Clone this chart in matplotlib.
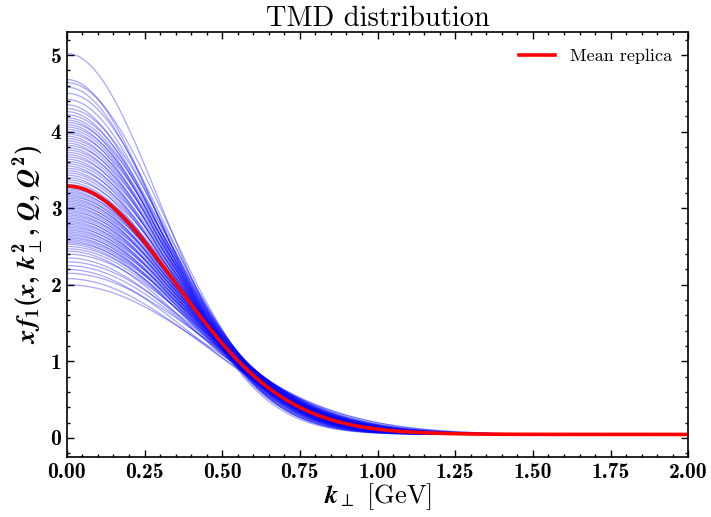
import numpy as np
import matplotlib
matplotlib.use('Agg')
import matplotlib.pyplot as plt
from matplotlib.ticker import MultipleLocator

peaks = [5.02, 4.68, 4.64, 4.58, 4.50, 4.42, 4.35, 4.30, 4.26, 4.22,
         4.18, 4.15, 4.12, 4.09, 4.06, 4.03, 4.00, 3.97, 3.94, 3.91,
         3.88, 3.85, 3.82, 3.79, 3.76, 3.73, 3.70, 3.67, 3.64, 3.61,
         3.58, 3.55, 3.52, 3.49, 3.46, 3.43, 3.40, 3.37, 3.34,
         3.31, 3.29, 3.27, 3.25, 3.23, 3.21, 3.19, 3.17, 3.15, 3.13,
         3.11, 3.09, 3.07, 3.05, 3.03, 3.01, 2.99, 2.97, 2.95, 2.93,
         2.91, 2.89, 2.87, 2.85, 2.83, 2.81, 2.79, 2.77, 2.75, 2.73,
         2.71, 2.69, 2.67, 2.65, 2.63, 2.61, 2.59, 2.57, 2.55, 2.53,
         2.50, 2.47, 2.44, 2.40, 2.35, 2.30, 2.25, 2.20, 2.15, 2.08, 2.00]
# gaussian width of the mean replica (GeV^2) and its height
width0, height0 = 0.255, 3.27
slope = 0.8                                # width ~ height^-slope
spread = [1.00, 0.93, 1.07, 0.96, 1.04]    # extra width scatter, cycled
tail = 0.045                               # flat level for k > 1.2 GeV

plt.rcParams['font.family'] = 'cmr10'
plt.rcParams['mathtext.fontset'] = 'custom'
plt.rcParams['mathtext.it'] = 'STIXGeneral:italic:bold'
plt.rcParams['mathtext.rm'] = 'cmb10'
plt.rcParams['mathtext.bf'] = 'cmb10'
plt.rcParams['axes.formatter.use_mathtext'] = True

k = np.linspace(0, 2, 400)
reps = []
for i, p in enumerate(peaks):
    w = width0*(height0/p)**slope*spread[i % len(spread)]
    reps.append((p-tail)*np.exp(-k**2/w) + tail)
reps = np.array(reps)

fig = plt.figure(figsize=(7.11, 5.17), dpi=100)
ax = fig.add_axes([0.094, 0.116, 0.874, 0.822])
for r in reps:
    ax.plot(k, r, color='blue', lw=0.9, alpha=0.35)
ax.plot(k, reps.mean(axis=0), color='red', lw=2.6, label='Mean replica')

ax.set_xlim(0, 2)
ax.set_ylim(-0.25, 5.3)
ax.xaxis.set_major_locator(MultipleLocator(0.25))
ax.xaxis.set_minor_locator(MultipleLocator(0.05))
ax.yaxis.set_major_locator(MultipleLocator(1))
ax.yaxis.set_minor_locator(MultipleLocator(0.2))
ax.set_xticklabels([f'{v:.2f}' for v in ax.get_xticks()])
ax.set_yticklabels([f'{v:.0f}' for v in ax.get_yticks()])
ax.tick_params(which='both', direction='in', top=True, right=True,
               labelsize=15.5, labelfontfamily='cmb10', width=1.0)
ax.tick_params(which='major', length=5, pad=4)
ax.tick_params(which='minor', length=2.5)
for s in ax.spines.values():
    s.set_linewidth(1.2)

ax.set_title('TMD distribution', fontsize=20.5, pad=3)
ax.set_xlabel(r'$k_\perp$ [GeV]', fontsize=19, labelpad=0)
ax.set_ylabel(r'$x\,f_1(x,\,k_\perp^2,\,Q,\,Q^2)$', fontsize=19, labelpad=3)
ax.legend(loc='upper right', frameon=False, fontsize=13, handlelength=2)

fig.savefig('out.png', dpi=100)
